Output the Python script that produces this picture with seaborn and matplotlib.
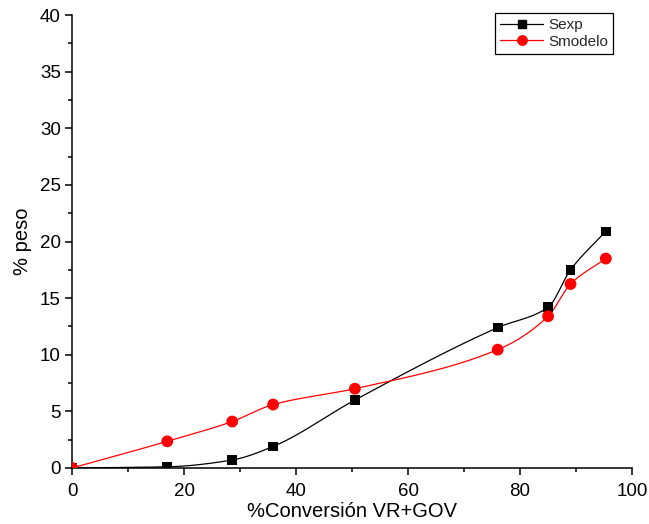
import matplotlib
matplotlib.use('Agg')

import numpy as np
import pandas as pd
import matplotlib.pyplot as plt
import seaborn as sns
from matplotlib.ticker import MultipleLocator

# --- data ---
conversion = [0, 17.0, 28.6, 35.9, 50.5, 76.0, 85.0, 89.0, 95.3]
s_exp = [0, 0.1, 0.7, 1.9, 6.0, 12.4, 14.2, 17.5, 20.9]
s_modelo = [0, 2.35, 4.1, 5.6, 7.0, 10.45, 13.4, 16.25, 18.5]

sns.set_theme(style='ticks')
plt.rcParams['font.family'] = ['Liberation Sans', 'DejaVu Sans']


def pchip(x, y, n=300):
    # monotone cubic, used only to draw the smooth connecting line
    x = np.asarray(x, float)
    y = np.asarray(y, float)
    h = np.diff(x)
    d = np.diff(y) / h
    m = np.zeros_like(y)
    for k in range(1, len(x) - 1):
        if d[k - 1] * d[k] > 0:
            w1 = 2 * h[k] + h[k - 1]
            w2 = h[k] + 2 * h[k - 1]
            m[k] = (w1 + w2) / (w1 / d[k - 1] + w2 / d[k])
    m[0] = d[0]
    m[-1] = d[-1]
    xs = np.linspace(x[0], x[-1], n)
    idx = np.clip(np.searchsorted(x, xs) - 1, 0, len(h) - 1)
    t = (xs - x[idx]) / h[idx]
    h00 = 2 * t**3 - 3 * t**2 + 1
    h10 = t**3 - 2 * t**2 + t
    h01 = -2 * t**3 + 3 * t**2
    h11 = t**3 - t**2
    ys = (h00 * y[idx] + h10 * h[idx] * m[idx]
          + h01 * y[idx + 1] + h11 * h[idx] * m[idx + 1])
    return xs, ys


df = pd.DataFrame({'conv': conversion, 'Sexp': s_exp, 'Smodelo': s_modelo})

fig = plt.figure(figsize=(6.49, 5.24), dpi=100)
ax = fig.add_axes([0.111, 0.107, 0.863, 0.864])

series = [('Sexp', 'black', 's', 7), ('Smodelo', 'red', 'o', 8.5)]
for name, col, mk, ms in series:
    xs, ys = pchip(df['conv'], df[name])
    ax.plot(xs, ys, color=col, lw=0.9, zorder=2)
    sns.scatterplot(data=df, x='conv', y=name, ax=ax, color=col, marker=mk,
                    s=ms**2, edgecolor='none', linewidth=0, zorder=3)

handles = [plt.Line2D([], [], color=c, lw=0.9, marker=m, markersize=ms * 0.8)
           for _, c, m, ms in series]
ax.legend(handles, [s[0] for s in series], loc='upper right',
          bbox_to_anchor=(0.966, 1.005), borderaxespad=0, fontsize=11,
          frameon=True, fancybox=False, edgecolor='black', framealpha=1,
          handlelength=2.8, borderpad=0.35, labelspacing=0.15,
          handletextpad=0.3)
ax.get_legend().get_frame().set_linewidth(0.9)

ax.set_xlim(0, 100)
ax.set_ylim(0, 40)
ax.xaxis.set_major_locator(MultipleLocator(20))
ax.xaxis.set_minor_locator(MultipleLocator(10))
ax.yaxis.set_major_locator(MultipleLocator(5))
ax.yaxis.set_minor_locator(MultipleLocator(2.5))
ax.tick_params(which='major', length=5, width=1.1, labelsize=13.5,
               direction='out', color='black', labelcolor='black', pad=3)
ax.tick_params(axis='x', which='major', pad=6)
ax.tick_params(which='minor', length=3, width=1.1, direction='out', color='black')

for side in ('top', 'right'):
    ax.spines[side].set_visible(False)
for side in ('left', 'bottom'):
    ax.spines[side].set_linewidth(1.1)
    ax.spines[side].set_color('black')

ax.set_xlabel('%Conversión VR+GOV', fontsize=14.5, labelpad=1, color='black')
ax.set_ylabel('% peso', fontsize=14.5, labelpad=6, color='black')

fig.savefig('out.png', dpi=100, facecolor='white')
